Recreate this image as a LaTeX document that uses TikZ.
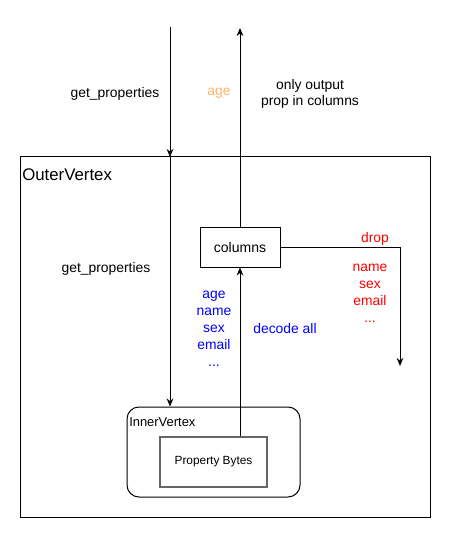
\documentclass[tikz,border=0pt]{standalone}
\usepackage{fontspec}
\setmainfont{Liberation Sans}
\usetikzlibrary{arrows.meta}
\definecolor{myblue}{HTML}{0000FF}
\definecolor{myred}{HTML}{FF0000}
\definecolor{myorange}{HTML}{FFB366}
\tikzset{
  box/.style={draw, line width=0.75pt, fill=white, inner sep=0pt},
  lbl/.style={inner sep=0pt, align=center, font=\fontsize{10.4}{12.5}\selectfont},
  arr/.style={line width=0.75pt, -{Stealth[length=6pt,width=5pt]}},
}
\begin{document}
\begin{tikzpicture}[x=0.75pt,y=-0.75pt]
\useasboundingbox (0,0) rectangle (451,538);
\node[box, minimum width=307.5pt, minimum height=270pt] (outer) at (225,337) {};
\node[lbl, anchor=west, font=\fontsize{12.6}{14}\selectfont] (outerlbl) at (22,175) {OuterVertex};
\node[box, minimum width=60pt, minimum height=30pt] (columns) at (240,247) {\fontsize{10.5}{12}\selectfont columns};
\node[box, rounded corners=9pt, minimum width=129.75pt, minimum height=67.5pt] (inner) at (213.5,452) {};
\node[lbl, anchor=west, font=\fontsize{9.7}{11}\selectfont] (innerlbl) at (129,422) {InnerVertex};
\node[draw=gray!80!black, line width=1pt, fill=white, inner sep=0pt, minimum width=80.25pt, minimum height=37.5pt] (bytes) at (213.5,462) {\fontsize{8.9}{10}\selectfont Property Bytes};

\coordinate (top1) at (170,27);
\coordinate (d1) at (170,157);
\coordinate (top2) at (240,28);
\coordinate (corner) at (400,247);
\coordinate (dropend) at (400,366);

\draw[arr] (top1) -- (d1);
\draw[arr] (d1) -- (d1 |- inner.north);
\draw[arr] (bytes.north -| columns.south) -- (columns.south);
\draw[arr] (columns.north) -- (top2);
\draw[arr] (columns.east) -- (corner) -- (dropend);

\node[lbl] (gp1) at (115,93.5) {get\_properties};
\node[lbl, text=myorange] (age) at (219,93.5) {age};
\node[lbl] (only) at (310,94) {only output\\prop in columns};
\node[lbl] (gp2) at (106,268.5) {get\_properties};
\node[lbl, text=myblue, font=\fontsize{10.4}{12.75}\selectfont] (blue) at (214,329) {age\\name\\sex\\email\\...};
\node[lbl, text=myblue] (decode) at (285,328.5) {decode all};
\node[lbl, text=myred] (drop) at (375,238.5) {drop};
\node[lbl, text=myred, font=\fontsize{10.4}{12.75}\selectfont] (red) at (370,293) {name\\sex\\email\\...};
\end{tikzpicture}
\end{document}
